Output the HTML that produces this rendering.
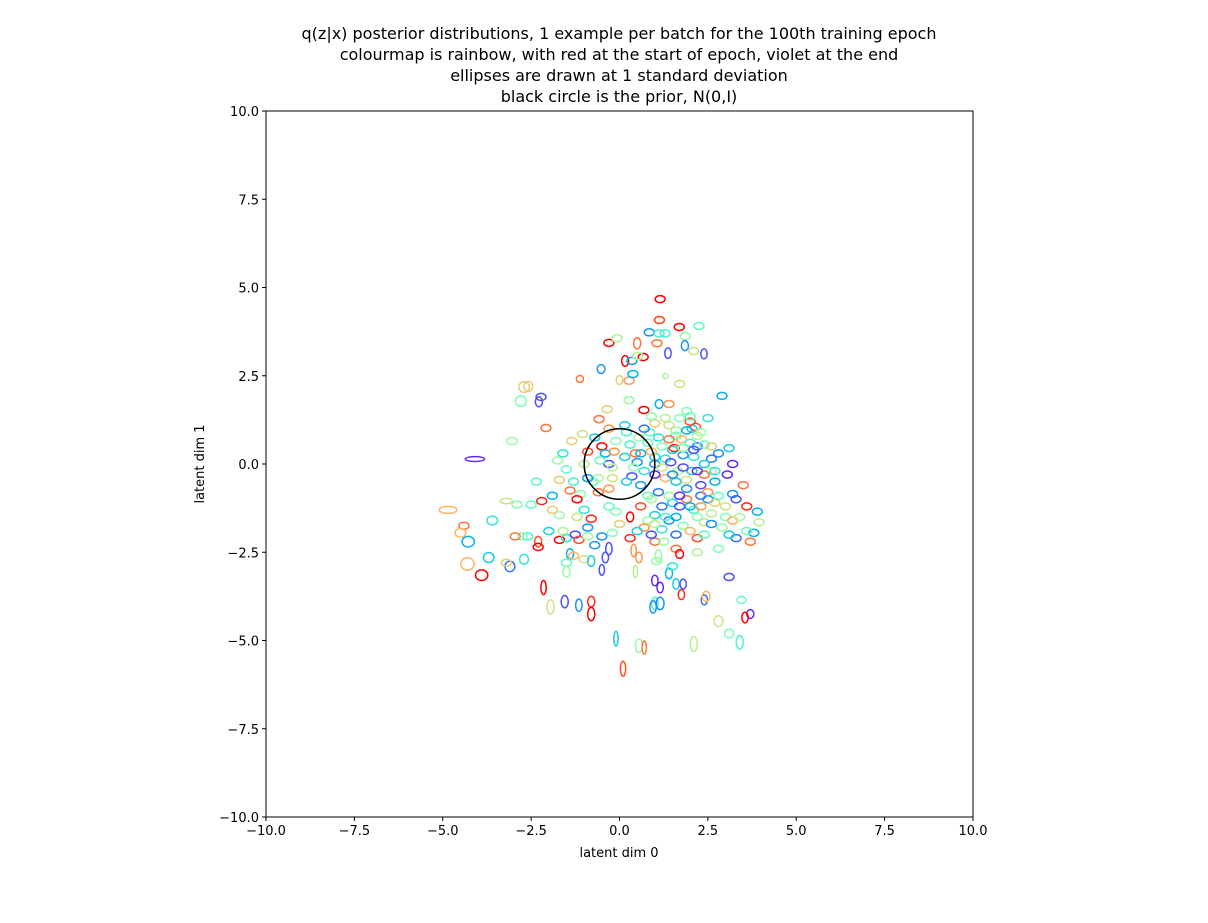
<!DOCTYPE html>
<html><head><meta charset="utf-8"><style>
body{margin:0;background:#fff;font-family:"Liberation Sans","DejaVu Sans",sans-serif}
svg text{font-family:"DejaVu Sans","Liberation Sans",sans-serif}
</style></head><body>
<svg id="chart" width="1208" height="918" xmlns="http://www.w3.org/2000/svg">
<g font-size="16" text-anchor="middle" fill="#000">
<text x="619" y="39">q(z|x) posterior distributions, 1 example per batch for the 100th training epoch</text>
<text x="619" y="60">colourmap is rainbow, with red at the start of epoch, violet at the end</text>
<text x="619" y="81">ellipses are drawn at 1 standard deviation</text>
<text x="619" y="102">black circle is the prior, N(0,I)</text>
</g>
<g id="ticks"></g>
<g id="marks"></g>
<ellipse id="prior" fill="none" stroke="#000" stroke-width="1.5"/>
<rect x="266" y="111" width="707" height="706" fill="none" stroke="#000" stroke-width="1"/>
<text x="619" y="857" font-size="13" text-anchor="middle">latent dim 0</text>
<text transform="translate(204,464) rotate(-90)" font-size="13" text-anchor="middle">latent dim 1</text>
</svg>
<script>
const xTicks=[-10,-7.5,-5,-2.5,0,2.5,5,7.5,10];
const yTicks=[-10,-7.5,-5,-2.5,0,2.5,5,7.5,10];
const tickLabels=["−10.0","−7.5","−5.0","−2.5","0.0","2.5","5.0","7.5","10.0"];
// each: [x, y, colourValue(0 violet .. 1 red), width, height] (std dev widths in data units, optional)
const ellipses=[
[1.15,4.67,1],[1.13,4.08,.92],[1.69,3.88,1],[2.25,3.91,.45],[0.84,3.73,.2],[1.12,3.7,.4],[1.29,3.7,.4],[1.86,3.62,.55],
[-0.3,3.43,1],[-0.07,3.56,.6],[0.5,3.42,.85,.2,.32],[1.06,3.42,.85],[1.37,3.14,.1,.18,.3],[2.39,3.12,.1,.18,.28],[1.85,3.35,.2,.2,.28],[2.1,3.2,.65],
[0.16,2.92,1,.2,.3],[0.67,3.03,1],[0.35,2.92,.2],[0.52,3.06,.6],[-0.52,2.69,.2,.22,.25],[-1.12,2.41,.85,.2,.2],[0,2.38,.7,.18,.25],[0.27,2.36,.8],
[0.38,2.55,.25],[1.3,2.49,.6,.15,.15],[1.7,2.27,.65],[2.9,1.93,.25],[-2.7,2.18,.7,.3,.3],[-2.58,2.2,.7,.25,.28],[-2.79,1.78,.5,.3,.3],[-2.22,1.9,.1],[-2.28,1.76,.1,.2,.28],
[-2.08,1.02,.85],[-3.04,0.65,.55,.3,.2],[-4.09,0.14,.05,.55,.14],[-4.85,-1.3,.75,.5,.2],[-4.28,-2.2,.25,.35,.3],[-4.4,-1.75,.85],[-4.5,-1.95,.75,.3,.25],
[0.27,1.81,.55],[-0.58,1.27,.85],[0.69,1.53,1],[1.12,1.7,.25,.22,.25],[1.4,1.7,.8],[1.7,1.3,.5],[2.0,1.2,.9],[2.05,1.0,.3],[1.3,1.3,.6],
[1.6,0.8,.45],[2.2,0.5,.15],[2.1,0.2,.35],[2.8,0.3,.2],[3.1,0.45,.3],[3.2,0,.05],[2.6,-0.2,.6],[1.0,0.2,.3],[0.8,0.6,.45],[0.2,0.9,.4],
[-0.5,0.5,1],[-0.9,0.35,.9],[-0.4,0.3,.25],[-0.3,0,.1],[0.15,0.2,.3],[0.45,0.3,.85],[0.5,0.05,.2],[-0.6,-0.4,.6],[-1.3,-0.5,.4],[-1.5,-0.15,.45],
[-1.7,-0.45,.7],[-1.1,-0.85,.5],[-1.2,-1.0,1],[-0.3,-0.7,.8],[0.6,-0.6,.2],[1.0,-0.3,.05],[1.3,-0.4,.75],[1.6,-0.5,.3],[1.9,-0.7,.2],[2.3,-0.6,.1],
[2.3,-0.9,.15],[2.5,-0.8,.8],[2.7,-0.5,.25],[3.2,-0.85,.2],[3.5,-0.6,.85],[3.3,-1.0,.1],[3.6,-1.2,.95],[3.9,-1.35,.25],[3.95,-1.65,.6],[3.8,-1.95,.25],
[3.7,-2.2,.85],[3.3,-2.1,.15],[3.0,-1.5,.5],[3.2,-1.6,.75],[2.6,-1.4,.6],[2.4,-1.65,.65],[2.2,-2.1,.9],[1.8,-1.75,.5],[1.6,-1.5,.25],[1.4,-1.6,.2],
[1.2,-1.85,.35],[1.0,-1.45,.3],[0.8,-1.6,.55],[0.3,-1.5,1,.2,.28],[0,-1.7,.7],[-0.3,-1.2,.45],[-0.8,-1.55,.95],[-0.9,-1.8,.2],[-1.2,-1.5,.65],[-1.7,-1.45,.55],
[-1.6,-1.9,.6],[-2.2,-1.05,.95],[-2.5,-1.15,.45],[-2.9,-1.15,.5],[-3.2,-1.05,.65,.35,.15],[-3.6,-1.6,.35,.3,.25],[-2.0,-1.9,.3],[-2.3,-2.2,.9,.2,.3],[-2.6,-2.05,.4],[-2.75,-2.05,.5],
[-2.95,-2.05,.85],[-2.7,-2.7,.35,.25,.28],[-3.1,-2.9,.15,.28,.3],[-3.2,-2.8,.7],[-3.7,-2.65,.3,.3,.28],[-4.3,-2.83,.75,.38,.35],[-3.9,-3.15,1,.35,.3],[-2.3,-2.35,1],[-1.7,-2.15,1],[-1.5,-2.1,.35],
[-1.25,-2.0,.1],[-1.15,-2.15,.9],[-0.9,-2.05,.55],[-0.7,-2.3,.2],[-1.4,-2.55,.25,.2,.3],[-1.3,-2.6,.75],[-1.0,-2.7,.65],[-0.8,-2.75,.3,.2,.3],[-1.5,-2.8,.45],[-1.5,-3.05,.55,.2,.3],
[-0.5,-2.05,.2],[-0.3,-2.4,.1,.18,.35],[-0.4,-2.65,.1,.18,.3],[-0.5,-3.0,.1,.15,.3],[-0.1,-1.35,.5],[0.3,-2.1,.95],[0.4,-2.45,.8,.15,.35],[0.55,-2.65,.8,.18,.3],[0.45,-3.05,.6,.12,.35],
[1.0,-2.2,.85],[1.1,-2.6,.55,.18,.35],[1.05,-2.75,.55],[1.25,-2.2,.55],[1.6,-2.4,.85],[1.7,-2.55,1,.22,.25],[1.4,-3.1,.25,.2,.3],[1.5,-2.9,.35],[1.0,-3.3,.05,.18,.3],
[1.15,-3.5,.05,.18,.3],[1.6,-3.4,.3,.18,.3],[1.8,-3.4,.1,.18,.28],[1.75,-3.7,.95,.18,.28],[1.0,-3.95,.4,.18,.35],[0.95,-4.05,.2,.18,.35],[1.15,-3.95,.2,.22,.35],
[2.4,-3.85,.15,.18,.28],[2.45,-3.75,.75,.22,.28],[3.45,-3.85,.45,.25,.2],[3.7,-4.25,.05,.2,.25],[3.55,-4.35,1,.18,.3],[2.8,-4.45,.65,.25,.3],[3.1,-4.8,.5,.25,.25],
[3.4,-5.05,.4,.2,.38],[2.1,-5.1,.6,.2,.42],[0.55,-5.15,.55,.2,.38],[0.7,-5.2,.85,.12,.38],[-0.1,-4.95,.3,.12,.42],[0.1,-5.8,.9,.15,.42],[-1.55,-3.9,.1,.2,.35],
[-1.15,-4.0,.2,.18,.35],[-0.8,-3.9,.95,.2,.3],[-0.8,-4.25,1,.2,.38],[-1.95,-4.05,.65,.2,.4],[-2.15,-3.5,1,.15,.4],
[1.6,0.95,.55],[1.9,1.5,.5],[2.0,1.35,.45],[2.15,1.05,.9],[1.75,0.7,.75],[2.4,0.55,.45],[1.2,0.5,.5],[1.3,0.15,.35],[1.45,0.05,.1],[1.65,-0.2,.6],
[2.05,-0.2,.3],[2.4,-0.3,.85],[1.9,-0.45,.65],[2.6,0.15,.15],[3.05,-0.3,.05],[2.0,0.6,.4],[1.8,0.25,.2],[1.0,0,.2],[0.7,-0.2,.35],[-0.15,0.35,.8],
[-0.55,0.1,.45],[0.35,-0.35,.1],[-0.75,-0.5,.45],[-0.2,-0.4,.65],[0.55,0.75,.55],[0.85,0.9,.45],[1.0,1.15,.7],[0.15,1.1,.3],[-0.35,1.55,.7],[-0.3,1.0,.8],
[-1.05,0.85,.65],[-1.35,0.65,.7],[-1.6,0.3,.35],[-1.75,0.1,.55],[-2.35,-0.5,.45],
[1.5,0.4,.3],[1.8,-0.1,.1],[2.2,-0.2,.05],[2.5,-1.0,.2],[2.7,-1.1,.7],[2.1,-1.3,.4],[1.9,-1.0,.85],[1.5,-1.1,.3],[1.2,-1.2,.15],[0.9,-1.0,.6],
[0.6,-1.2,.9],[2.9,-1.8,.55],[3.1,-2.0,.3],[2.8,-2.4,.5],[2.2,-2.5,.6],[2.0,-1.9,.75],[1.3,-1.5,.4],[0.9,-2.0,.1],[0.7,-1.8,.8],[2.7,-0.2,.35],
[2.3,0.9,.55],[2.5,1.3,.35],[1.4,1.1,.65],[0.9,1.35,.5],[1.55,0.45,.95],[2.2,-1.5,.5],[1.7,-1.2,.1],[3.4,-1.5,.6],[3.6,-1.9,.45],[3.1,-3.2,.1],
[0.3,0.55,.4],[0.6,0.3,.25],[0.9,0.35,.75],[0.4,-0.1,.55],[0.2,-0.5,.3],[-0.2,-0.1,.6],[-0.6,-0.8,.85],[-0.9,-0.4,.2],[0.8,-0.9,.45],[1.1,-0.8,.15],
[1.4,-0.9,.55],[1.7,-0.9,.05],[2.0,-1.2,.25],[2.3,-1.2,.8],[1.2,-0.1,.65],[1.5,-0.3,.2],[1.8,0.45,.5],[2.1,0.4,.1],[2.4,0.0,.3],[2.6,0.5,.7],
[1.1,0.75,.35],[1.4,0.7,.85],[1.9,0.95,.25],[2.2,0.8,.6],[0.7,1.0,.15],[-0.1,0.65,.5],[-0.7,0.75,.3],[-1.0,0.0,.6],[-1.4,-0.75,.85],[-1.9,-0.9,.25],
[2.8,-0.9,.45],[3.0,-1.2,.65],[2.6,-1.7,.2],[1.0,-1.7,.6],[0.5,-1.9,.3],[-0.2,-1.95,.5],[-1.0,-1.3,.35],[-1.9,-1.3,.7],[1.6,-2.0,.15],[2.4,-2.0,.45]
];
const X0=266,X1=973,Y0=817,Y1=111;
const xs=v=>X0+(v+10)/20*(X1-X0), ys=v=>Y0-(v+10)/20*(Y0-Y1);
const NS="http://www.w3.org/2000/svg";
function rainbow(t){const r=Math.min(1,Math.abs(2*t-0.5)),g=Math.sin(Math.PI*t),b=Math.cos(Math.PI*t/2);
return `rgb(${Math.round(r*255)},${Math.round(g*255)},${Math.round(b*255)})`;}
const tg=document.getElementById('ticks');
xTicks.forEach((v,i)=>{
 const l=document.createElementNS(NS,'line');l.setAttribute('x1',xs(v));l.setAttribute('x2',xs(v));l.setAttribute('y1',Y0);l.setAttribute('y2',Y0+4);l.setAttribute('stroke','#000');
 
 tg.appendChild(l);
 const t=document.createElementNS(NS,'text');t.setAttribute('x',xs(v));t.setAttribute('y',Y0+18);t.setAttribute('font-size','13');t.setAttribute('text-anchor','middle');t.textContent=tickLabels[i];
 
 tg.appendChild(t);
});
yTicks.forEach((v,i)=>{
 const l=document.createElementNS(NS,'line');l.setAttribute('x1',X0-4);l.setAttribute('x2',X0);l.setAttribute('y1',ys(v));l.setAttribute('y2',ys(v));l.setAttribute('stroke','#000');
 
 tg.appendChild(l);
 const t=document.createElementNS(NS,'text');t.setAttribute('x',X0-7);t.setAttribute('y',ys(v)+5);t.setAttribute('font-size','13');t.setAttribute('text-anchor','end');t.textContent=tickLabels[i];
 
 tg.appendChild(t);
});
const mg=document.getElementById('marks');
ellipses.forEach(e=>{
 const w=e[3]||0.28,h=e[4]||0.2;
 const el=document.createElementNS(NS,'ellipse');
 el.setAttribute('cx',xs(e[0]));el.setAttribute('cy',ys(e[1]));
 el.setAttribute('rx',(xs(w/2)-xs(0)));el.setAttribute('ry',(ys(0)-ys(h/2)));
 el.setAttribute('fill','none');el.setAttribute('stroke',rainbow(e[2]));el.setAttribute('stroke-width','1.5');
 
 
 mg.appendChild(el);
});
const p=document.getElementById('prior');
p.setAttribute('cx',xs(0));p.setAttribute('cy',ys(0));p.setAttribute('rx',xs(1)-xs(0));p.setAttribute('ry',ys(0)-ys(1));
</script>
</body></html>
